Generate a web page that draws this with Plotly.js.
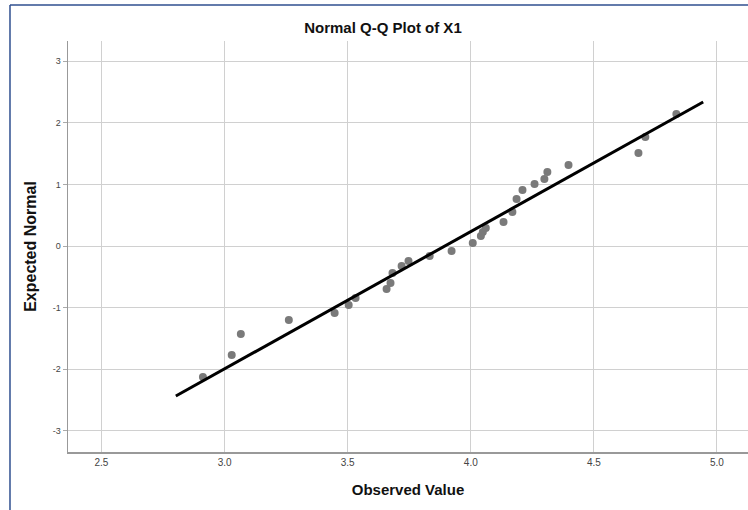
<!DOCTYPE html>
<html>
<head>
<meta charset="utf-8">
<script src="https://cdn.plot.ly/plotly-3.0.1.min.js"></script>
<style>
  html, body { margin: 0; padding: 0; background: #ffffff; }
  #chart { width: 748px; height: 510px; }
</style>
</head>
<body>
<div id="chart"></div>
<script>
// Observed values (x) and expected normal quantiles (y)
const observed = [2.912, 3.029, 3.066, 3.261, 3.447, 3.504, 3.532, 3.658, 3.674, 3.682,
                  3.719, 3.747, 3.833, 3.922, 4.008, 4.041, 4.049, 4.061, 4.133, 4.169,
                  4.186, 4.210, 4.259, 4.299, 4.311, 4.397, 4.681, 4.709, 4.835];
const expected = [-2.127, -1.769, -1.428, -1.201, -1.088, -0.958, -0.844, -0.698, -0.601, -0.438,
                  -0.325, -0.244, -0.162, -0.081, 0.049, 0.162, 0.227, 0.292, 0.390, 0.552,
                  0.763, 0.909, 1.006, 1.088, 1.201, 1.315, 1.510, 1.769, 2.143];
// Reference line endpoints
const lineX = [2.802, 4.944];
const lineY = [-2.435, 2.338];
// Tick labels
const xTicks = [2.5, 3.0, 3.5, 4.0, 4.5, 5.0];
const xTickText = ["2.5", "3.0", "3.5", "4.0", "4.5", "5.0"];
const yTicks = [-3, -2, -1, 0, 1, 2, 3];
const yTickText = ["-3", "-2", "-1", "0", "1", "2", "3"];

const FONT = '"Liberation Sans Narrow", "Liberation Sans", Arial, sans-serif';

const traces = [
  {
    x: observed, y: expected, type: 'scatter', mode: 'markers',
    marker: { color: '#7a7a7a', size: 8 },
    hoverinfo: 'x+y', showlegend: false
  },
  {
    x: lineX, y: lineY, type: 'scatter', mode: 'lines',
    line: { color: '#000000', width: 3 },
    hoverinfo: 'skip', showlegend: false
  }
];

const layout = {
  width: 748, height: 510,
  margin: { l: 68, r: 0, t: 41, b: 58 },
  paper_bgcolor: '#ffffff', plot_bgcolor: '#ffffff',
  font: { family: FONT, color: '#333333' },
  title: {
    text: 'Normal Q-Q Plot of X1',
    font: { family: FONT, size: 15, color: '#111111', weight: 'bold' },
    x: 0.512, xref: 'container', xanchor: 'center',
    y: 0.946, yref: 'container', yanchor: 'middle'
  },
  xaxis: {
    range: [2.364, 5.126],
    tickvals: xTicks, ticktext: xTickText,
    showgrid: true, gridcolor: '#d0d0d0', gridwidth: 1,
    zeroline: false,
    showline: true, linecolor: '#999999', linewidth: 1.5,
    ticks: '', tickfont: { family: FONT, size: 10, color: '#444444' },
    title: { text: 'Observed Value', font: { family: FONT, size: 15, color: '#111111', weight: 'bold' }, standoff: 18 },
    automargin: false, fixedrange: true
  },
  yaxis: {
    range: [-3.344, 3.328],
    tickvals: yTicks, ticktext: yTickText,
    showgrid: true, gridcolor: '#d0d0d0', gridwidth: 1,
    zeroline: false,
    showline: true, linecolor: '#999999', linewidth: 1.5,
    ticks: 'outside', ticklen: 4, tickcolor: '#aaaaaa',
    tickfont: { family: FONT, size: 9, color: '#444444' },
    title: { text: 'Expected Normal', font: { family: FONT, size: 16, color: '#111111', weight: 'bold' }, standoff: 12 },
    automargin: false, fixedrange: true
  },
  shapes: [
    { type: 'line', xref: 'paper', yref: 'paper', x0: -0.0853, x1: 1.0, y0: 1.0876, y1: 1.0876,
      line: { color: '#2f4f8f', width: 1.5 } },
    { type: 'line', xref: 'paper', yref: 'paper', x0: -0.0853, x1: -0.0853, y0: 1.0876, y1: -0.15,
      line: { color: '#2f4f8f', width: 1.5 } }
  ]
};

Plotly.newPlot('chart', traces, layout, { staticPlot: true, displayModeBar: false });
</script>
</body>
</html>
